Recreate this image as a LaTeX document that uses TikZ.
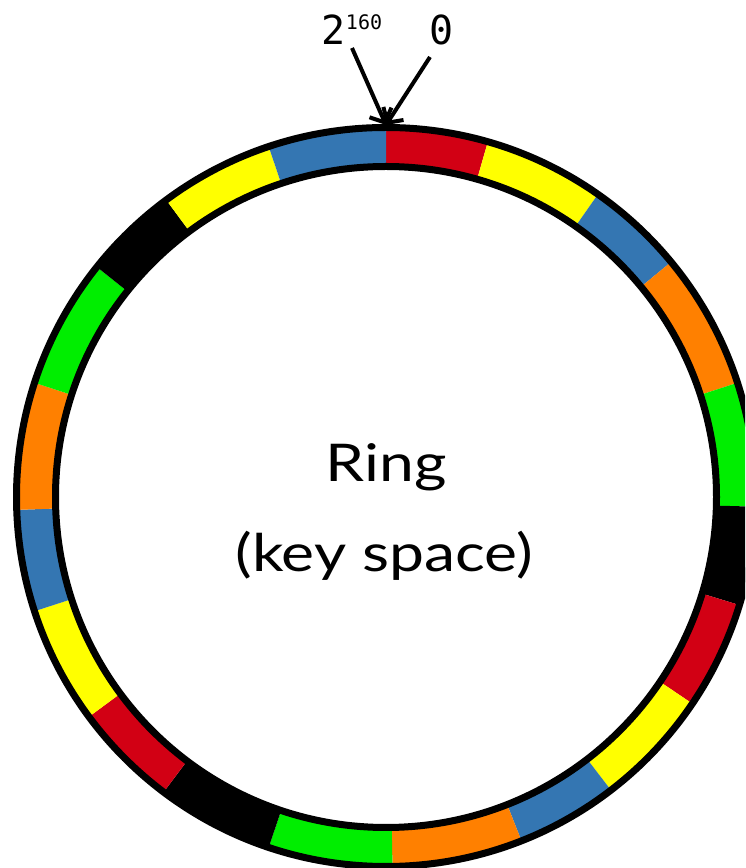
\documentclass[tikz,border=0pt]{standalone}
\usepackage{fontspec}
\usepackage{tikz}
\usetikzlibrary{arrows.meta, positioning, calc}
\newfontfamily\ringfont{Lato}
\newfontfamily\monofont{DejaVu Sans Mono}
\definecolor{SegRed}{RGB}{210,0,20}
\definecolor{SegYellow}{RGB}{255,255,0}
\definecolor{SegBlue}{RGB}{52,118,178}
\definecolor{SegOrange}{RGB}{255,128,0}
\definecolor{SegGreen}{RGB}{0,238,0}

\begin{document}
\begin{tikzpicture}[x=1pt,y=1pt,
        ringline/.style={draw=black,line width=7pt},
        lbl/.style={inner sep=0pt,font=\monofont\fontsize{40}{40}\selectfont},
        txt/.style={inner sep=0pt,anchor=base,font=\ringfont\fontsize{52}{52}\selectfont},
        arr/.style={-{Straight Barb[length=11pt,width=24pt]},line width=4pt}
      ]
        \useasboundingbox (0,0) rectangle (745,868);
        \clip (0,0) rectangle (745,868);
        \coordinate (ctr) at (386,371);
        % key space segments, clockwise from the top
        \foreach \a/\b/\c in {90/74/SegRed, 74/55/SegYellow, 55/39.5/SegBlue,
            39.5/18/SegOrange, 18/-1.5/SegGreen, -1.5/-17/black,
            -17/-34/SegRed, -34/-52.5/SegYellow, -52.5/-68.5/SegBlue,
            -68.5/-89/SegOrange, -89/-108.5/SegGreen, -108.5/-127/black,
            -127/-143.5/SegRed, -143.5/-162/SegYellow, -162/-178/SegBlue,
            -178/-198/SegOrange, -198/-218.5/SegGreen, -218.5/-233.5/black,
            -233.5/-251.5/SegYellow, -251.5/-270/SegBlue}
          \fill[\c,shift={(ctr)}] (\a:369) arc[start angle=\a,end angle=\b,radius=369]
            -- (\b:331) arc[start angle=\b,end angle=\a,radius=331] -- cycle;
        \draw[ringline] (ctr) circle[radius=369.5];
        \draw[ringline] (ctr) circle[radius=330.5];
        \coordinate (top) at (386,743);
        \node[lbl,anchor=base] (two) at (352,823)
          {2\raisebox{15pt}{\fontsize{20}{20}\selectfont 160}};
        \node[lbl,anchor=base] (zero) at (442,823) {0};
        \coordinate (twoend) at (352,820);
        \coordinate (zeroend) at (430,811);
        \draw[arr] (twoend) -- (top);
        \draw[arr] (zeroend) -- (top);
        \node[txt] (ring) at (386,386) {\scalebox{1.2}[1]{Ring}};
        \node[txt] (keyspace) at (384,296) {\scalebox{1.2}[1]{(key space)}};
      \end{tikzpicture}
\end{document}
